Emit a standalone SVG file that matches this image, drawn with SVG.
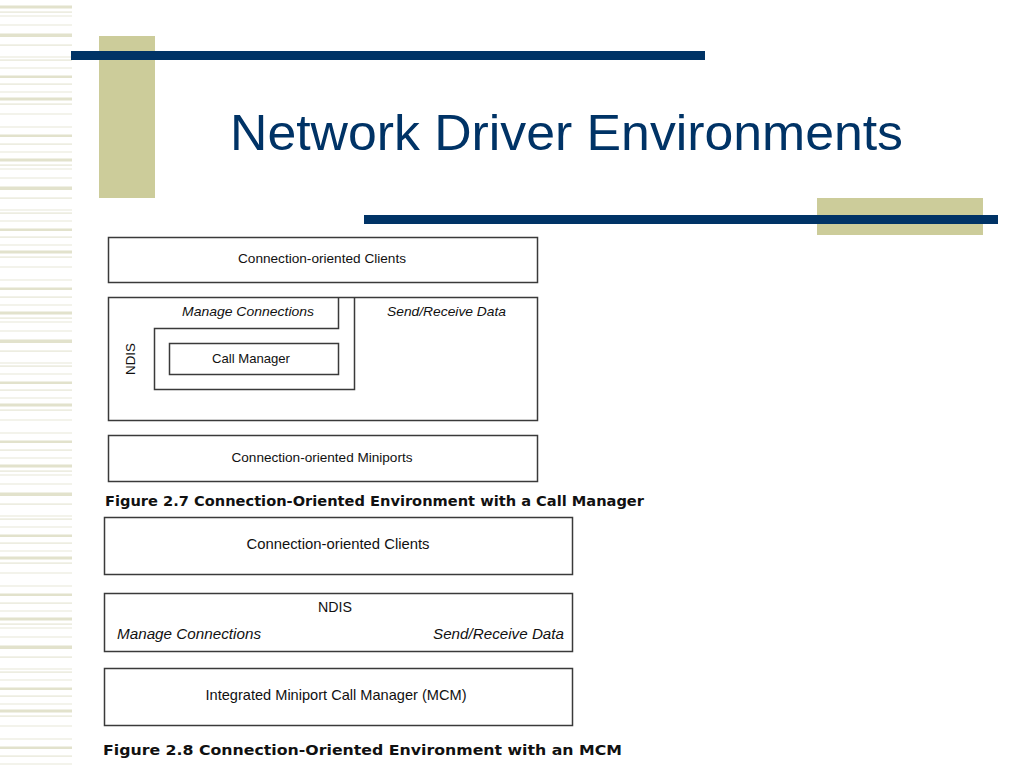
<svg xmlns="http://www.w3.org/2000/svg" width="1024" height="768" viewBox="0 0 1024 768">
<defs>
<pattern id="stripes" x="0" y="0" width="72" height="153" patternUnits="userSpaceOnUse">
<rect x="0" y="5.5" width="72" height="3" fill="#e2e2cc"/>
<rect x="0" y="11.5" width="72" height="1.2" fill="#e6e6d4"/>
<rect x="0" y="15.5" width="72" height="1" fill="#e8e8d8"/>
<rect x="0" y="24.5" width="72" height="1" fill="#e8e8d8"/>
<rect x="0" y="33.5" width="72" height="3.5" fill="#e2e2cc"/>
<rect x="0" y="44.5" width="72" height="1.2" fill="#e6e6d4"/>
<rect x="0" y="56.5" width="72" height="1" fill="#e8e8d8"/>
<rect x="0" y="59.5" width="72" height="1.2" fill="#e6e6d4"/>
<rect x="0" y="67.5" width="72" height="1" fill="#e8e8d8"/>
<rect x="0" y="75.5" width="72" height="2.5" fill="#e2e2cc"/>
<rect x="0" y="83.5" width="72" height="1.2" fill="#e6e6d4"/>
<rect x="0" y="91.5" width="72" height="1" fill="#e8e8d8"/>
<rect x="0" y="97.5" width="72" height="3" fill="#e2e2cc"/>
<rect x="0" y="103.5" width="72" height="1.2" fill="#e6e6d4"/>
<rect x="0" y="113.5" width="72" height="1" fill="#e8e8d8"/>
<rect x="0" y="126.5" width="72" height="1" fill="#e8e8d8"/>
<rect x="0" y="134.5" width="72" height="2.5" fill="#e2e2cc"/>
<rect x="0" y="143.5" width="72" height="1.2" fill="#e6e6d4"/>
<rect x="0" y="151.5" width="72" height="1" fill="#e8e8d8"/>
</pattern>
<style>
.box{fill:#ffffff;stroke:#3a3a3a;stroke-width:1.5}
.line{fill:none;stroke:#3a3a3a;stroke-width:1.5}
.lbl{font-family:"Liberation Sans",Arial,sans-serif;fill:#111111}
.it{font-style:italic}
.cap{font-family:"DejaVu Sans",Verdana,sans-serif;font-weight:bold;font-size:13.5px;fill:#111111}
.title{font-family:"Liberation Sans",Arial,sans-serif;font-size:50px;fill:#003366}
</style>
</defs>
<rect width="1024" height="768" fill="#ffffff"/>
<g id="decor">
<rect x="0" y="0" width="72" height="768" fill="url(#stripes)"/>
<rect x="99" y="36" width="56" height="162" fill="#cccc9a"/>
<rect x="71" y="51" width="634" height="9" fill="#003366"/>
<rect x="817" y="198" width="166" height="37" fill="#cccc9a"/>
<rect x="364" y="215" width="634" height="9" fill="#003366"/>
</g>
<g id="title">
<text class="title" x="230" y="150" textLength="673" lengthAdjust="spacingAndGlyphs">Network Driver Environments</text>
</g>
<g id="fig27">
<g id="f27-clients">
<rect class="box" x="108.5" y="237.5" width="429" height="45"/>
<text class="lbl" x="322" y="263" font-size="13" text-anchor="middle" textLength="168" lengthAdjust="spacingAndGlyphs">Connection-oriented Clients</text>
</g>
<g id="f27-ndis">
<rect class="box" x="108.5" y="297.5" width="429" height="123"/>
<path class="line" d="M338.5,297.5 V328.5 H154.5 V389.5 H354.5 V297.5"/>
<text class="lbl" transform="translate(135,359) rotate(-90)" font-size="13" text-anchor="middle" textLength="32" lengthAdjust="spacingAndGlyphs">NDIS</text>
<text class="lbl it" x="182" y="316" font-size="13" textLength="132" lengthAdjust="spacingAndGlyphs">Manage Connections</text>
<text class="lbl it" x="387" y="316" font-size="13" textLength="119" lengthAdjust="spacingAndGlyphs">Send/Receive Data</text>
</g>
<g id="f27-callmgr">
<rect class="box" x="169.5" y="343.5" width="169" height="31"/>
<text class="lbl" x="251" y="363" font-size="13" text-anchor="middle" textLength="78" lengthAdjust="spacingAndGlyphs">Call Manager</text>
</g>
<g id="f27-miniports">
<rect class="box" x="108.5" y="435.5" width="429" height="46"/>
<text class="lbl" x="322" y="462" font-size="13" text-anchor="middle" textLength="181" lengthAdjust="spacingAndGlyphs">Connection-oriented Miniports</text>
</g>
<text class="cap" x="105" y="506" textLength="539" lengthAdjust="spacingAndGlyphs">Figure 2.7 Connection-Oriented Environment with a Call Manager</text>
</g>
<g id="fig28">
<g id="f28-clients">
<rect class="box" x="104.5" y="517.5" width="468" height="57"/>
<text class="lbl" x="338" y="549" font-size="15" text-anchor="middle" textLength="183" lengthAdjust="spacingAndGlyphs">Connection-oriented Clients</text>
</g>
<g id="f28-ndis">
<rect class="box" x="104.5" y="593.5" width="468" height="58"/>
<text class="lbl" x="335" y="612" font-size="15" text-anchor="middle" textLength="34" lengthAdjust="spacingAndGlyphs">NDIS</text>
<text class="lbl it" x="117" y="639" font-size="15" textLength="144" lengthAdjust="spacingAndGlyphs">Manage Connections</text>
<text class="lbl it" x="433" y="639" font-size="15" textLength="131" lengthAdjust="spacingAndGlyphs">Send/Receive Data</text>
</g>
<g id="f28-mcm">
<rect class="box" x="104.5" y="668.5" width="468" height="57"/>
<text class="lbl" x="336" y="700" font-size="15" text-anchor="middle" textLength="261" lengthAdjust="spacingAndGlyphs">Integrated Miniport Call Manager (MCM)</text>
</g>
<text class="cap" x="103" y="755" textLength="519" lengthAdjust="spacingAndGlyphs">Figure 2.8 Connection-Oriented Environment with an MCM</text>
</g>
<g id="connectors"/>
</svg>
